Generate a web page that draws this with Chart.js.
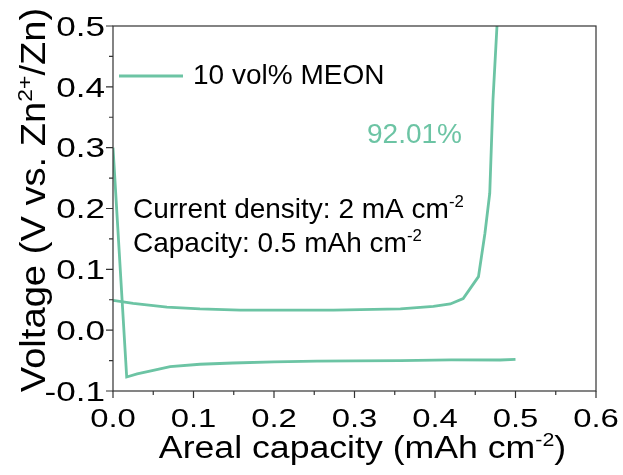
<!DOCTYPE html>
<html>
<head>
<meta charset="utf-8">
<script src="https://cdn.jsdelivr.net/npm/chart.js@4.4.1/dist/chart.umd.min.js"></script>
<style>
  html, body { margin: 0; padding: 0; background: #fff; }
  #wrap { width: 623px; height: 475px; }
</style>
</head>
<body>
<div id="wrap"><canvas id="voltChart"></canvas></div>
<script>
// plating branch (lower curve): capacity in mAh cm-2, voltage in V
const platingCapacity = [0, 0.017, 0.03, 0.05, 0.071, 0.108, 0.149, 0.2, 0.253, 0.3, 0.357, 0.42, 0.481, 0.5];
const platingVoltage = [0.30, -0.077, -0.072, -0.066, -0.060, -0.056, -0.054, -0.052, -0.051, -0.0505, -0.050, -0.049, -0.049, -0.048];

// stripping branch (upper curve)
const strippingCapacity = [0, 0.025, 0.067, 0.108, 0.158, 0.274, 0.357, 0.398, 0.419, 0.435, 0.454, 0.462, 0.468, 0.472, 0.477];
const strippingVoltage = [0.049, 0.044, 0.038, 0.035, 0.033, 0.033, 0.035, 0.039, 0.043, 0.052, 0.088, 0.159, 0.225, 0.378, 0.5];

const xTicks = [0, 0.1, 0.2, 0.3, 0.4, 0.5, 0.6];
const yTicks = [-0.1, 0, 0.1, 0.2, 0.3, 0.4, 0.5];
const xTickLabels = ['0.0', '0.1', '0.2', '0.3', '0.4', '0.5', '0.6'];
const yTickLabels = ['-0.1', '0.0', '0.1', '0.2', '0.3', '0.4', '0.5'];

const seriesName = '10 vol% MEON';
const efficiency = '92.01%';

const FONT = "'Liberation Sans', Arial, sans-serif";
const LINE_COLOR = '#6cc4a4';

function toPoints(xs, ys) {
    return xs.map((x, i) => ({ x: x, y: ys[i] }));
}

// text with superscript pieces, e.g. [{t: 'cm'}, {t: '-2', sup: true}]
// sx widens the glyphs horizontally
function drawRich(ctx, parts, x, y, size, align, sx) {
    sx = sx || 1;
    let w = 0;
    parts.forEach(p => {
        ctx.font = (p.sup ? size * 0.6 : size) + 'px ' + FONT;
        w += ctx.measureText(p.t).width;
    });
    ctx.save();
    ctx.translate(x, y);
    ctx.scale(sx, 1);
    let cx = align === 'center' ? -w / 2 : (align === 'right' ? -w : 0);
    parts.forEach(p => {
        const s = p.sup ? size * 0.6 : size;
        ctx.font = s + 'px ' + FONT;
        ctx.fillText(p.t, cx, p.sup ? -size * 0.38 : 0);
        cx += ctx.measureText(p.t).width;
    });
    ctx.restore();
}

const decorations = {
    id: 'decorations',
    afterDraw(chart) {
        const ctx = chart.ctx;
        const area = chart.chartArea;
        const xs = chart.scales.x;
        const ys = chart.scales.y;
        ctx.save();

        // plot frame
        ctx.strokeStyle = '#333';
        ctx.lineWidth = 1.2;
        ctx.strokeRect(area.left, area.top, area.right - area.left, area.bottom - area.top);

        // outward tick marks, minor ones halfway between labels
        ctx.beginPath();
        for (let i = 0; i < xTicks.length; i++) {
            const px = xs.getPixelForValue(xTicks[i]);
            ctx.moveTo(px, area.bottom);
            ctx.lineTo(px, area.bottom + 7);
            if (i < xTicks.length - 1) {
                const mx = xs.getPixelForValue((xTicks[i] + xTicks[i + 1]) / 2);
                ctx.moveTo(mx, area.bottom);
                ctx.lineTo(mx, area.bottom + 4);
            }
        }
        for (let i = 0; i < yTicks.length; i++) {
            const py = ys.getPixelForValue(yTicks[i]);
            ctx.moveTo(area.left, py);
            ctx.lineTo(area.left - 7, py);
            if (i < yTicks.length - 1) {
                const my = ys.getPixelForValue((yTicks[i] + yTicks[i + 1]) / 2);
                ctx.moveTo(area.left, my);
                ctx.lineTo(area.left - 4, my);
            }
        }
        ctx.stroke();

        ctx.fillStyle = '#000';
        ctx.textAlign = 'left';
        ctx.textBaseline = 'alphabetic';

        // tick labels, slightly widened
        xTicks.forEach((v, i) => {
            drawRich(ctx, [{ t: xTickLabels[i] }], xs.getPixelForValue(v), area.bottom + 36, 26.5, 'center', 1.24);
        });
        yTicks.forEach((v, i) => {
            drawRich(ctx, [{ t: yTickLabels[i] }], area.left - 8, ys.getPixelForValue(v) + 9.7, 27, 'right', 1.3);
        });

        // axis titles
        drawRich(ctx, [{ t: 'Areal capacity (mAh cm' }, { t: '-2', sup: true }, { t: ')' }],
            (area.left + area.right) / 2 + 8, 458, 31, 'center', 1.15);
        ctx.save();
        ctx.translate(45, 200);
        ctx.rotate(-Math.PI / 2);
        drawRich(ctx, [{ t: 'Voltage (V vs. Zn' }, { t: '2+', sup: true }, { t: '/Zn)' }], 0, 0, 35, 'center', 1.09);
        ctx.restore();

        // legend
        ctx.strokeStyle = LINE_COLOR;
        ctx.lineWidth = 3;
        ctx.beginPath();
        ctx.moveTo(119, 76);
        ctx.lineTo(183, 76);
        ctx.stroke();
        drawRich(ctx, [{ t: seriesName }], 193, 84, 28, 'left');

        // annotations
        ctx.fillStyle = LINE_COLOR;
        drawRich(ctx, [{ t: efficiency }], 367, 143, 28, 'left');
        ctx.fillStyle = '#000';
        drawRich(ctx, [{ t: 'Current density: 2 mA cm' }, { t: '-2', sup: true }], 133, 218, 28, 'left');
        drawRich(ctx, [{ t: 'Capacity: 0.5 mAh cm' }, { t: '-2', sup: true }], 133, 252, 28, 'left');

        ctx.restore();
    }
};

const lineStyle = {
    borderColor: LINE_COLOR,
    backgroundColor: LINE_COLOR,
    borderWidth: 2.8,
    pointRadius: 0,
    showLine: true,
    tension: 0
};

new Chart('voltChart', {
    type: 'scatter',
    data: {
        datasets: [
            Object.assign({ label: seriesName, data: toPoints(platingCapacity, platingVoltage) }, lineStyle),
            Object.assign({ label: seriesName + ' stripping', data: toPoints(strippingCapacity, strippingVoltage) }, lineStyle)
        ]
    },
    options: {
        responsive: true,
        maintainAspectRatio: false,
        animation: false,
        layout: { padding: { left: 0, right: 27, top: 26, bottom: 0 } },
        plugins: {
            legend: { display: false },
            tooltip: { enabled: false }
        },
        scales: {
            x: {
                type: 'linear',
                min: 0,
                max: 0.6,
                afterBuildTicks: s => { s.ticks = xTicks.map(v => ({ value: v })); },
                afterFit: s => { s.height = 84; },
                grid: { display: false, drawTicks: false },
                border: { display: false },
                ticks: { display: false }
            },
            y: {
                type: 'linear',
                min: -0.1,
                max: 0.5,
                afterBuildTicks: s => { s.ticks = yTicks.map(v => ({ value: v })); },
                afterFit: s => { s.width = 113; },
                grid: { display: false, drawTicks: false },
                border: { display: false },
                ticks: { display: false }
            }
        }
    },
    plugins: [decorations]
});
</script>
</body>
</html>
